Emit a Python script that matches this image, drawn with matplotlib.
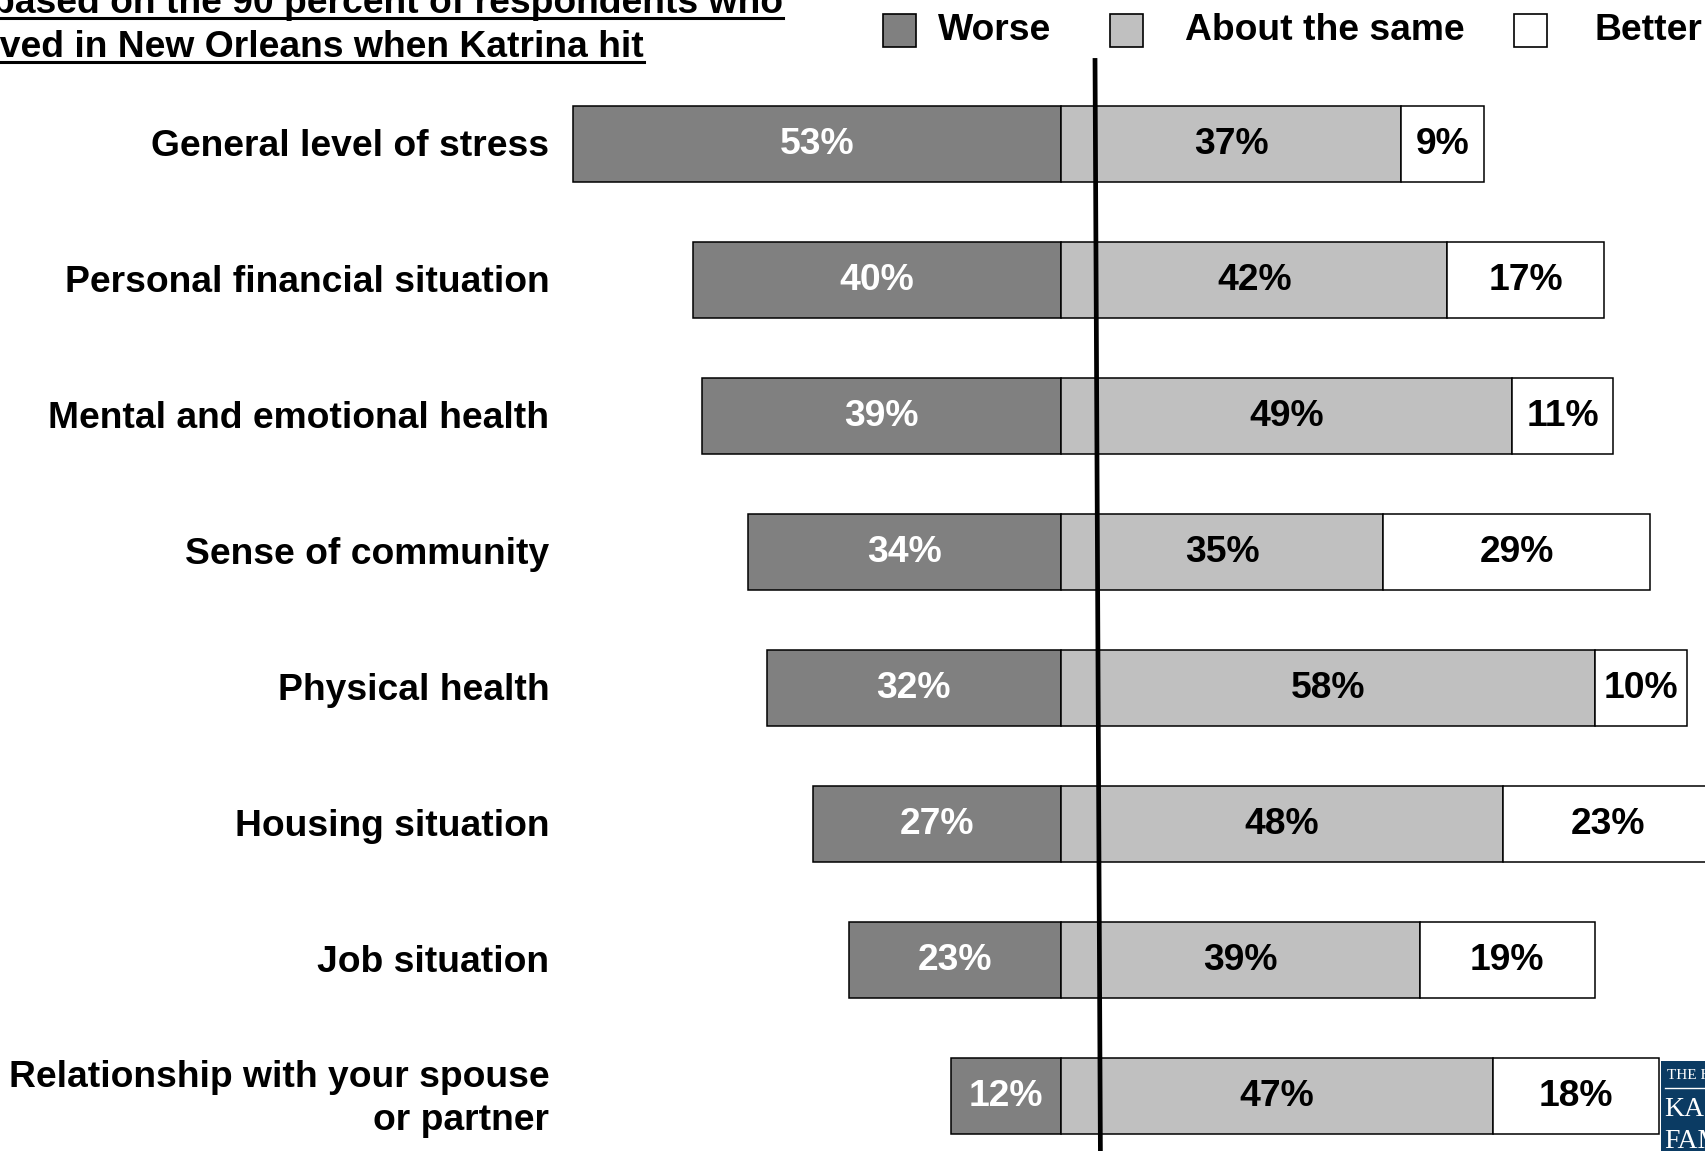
import numpy as np
import matplotlib.pyplot as plt
from matplotlib.patches import Rectangle
from matplotlib.lines import Line2D
from matplotlib.transforms import IdentityTransform

plt.rcParams['font.family'] = ['Liberation Sans', 'DejaVu Sans']

categories = ["General level of stress", "Personal financial situation",
              "Mental and emotional health", "Sense of community",
              "Physical health", "Housing situation", "Job situation",
              "Relationship with your spouse\nor partner"]
worse = np.array([53, 40, 39, 34, 32, 27, 23, 12])
same = np.array([37, 42, 49, 35, 58, 48, 39, 47])
better = np.array([9, 17, 11, 29, 10, 23, 19, 18])

legend_labels = ["Worse", "About the same", "Better"]
title_lines = ["based on the 90 percent of respondents who",
               "lived in New Orleans when Katrina hit"]

c_worse = '#808080'
c_same = '#c0c0c0'
c_better = '#ffffff'
FS = 26.8

W, H = 1706, 1151
fig = plt.figure(figsize=(W / 100, H / 100), dpi=100)
ax = fig.add_axes([0, 0, 1, 1])
ax.axis('off')
ax.set_xlim(-115.3, 70.1)
ax.set_ylim(7.404, -1.059)


def fx(px):
    return px / W


def fy(py):
    return 1 - py / H


y = np.arange(len(categories))
h = 0.559
kw = dict(height=h, edgecolor='black', linewidth=1.1)
ax.barh(y, worse, left=-worse, color=c_worse, **kw)
ax.barh(y, same, left=0, color=c_same, **kw)
ax.barh(y, better, left=same, color=c_better, **kw)

for i in range(len(categories)):
    ax.text(-worse[i] / 2, y[i], f"{worse[i]}%", ha='center', va='center',
            color='white', fontsize=FS, fontweight='bold')
    ax.text(same[i] / 2, y[i], f"{same[i]}%", ha='center', va='center',
            color='black', fontsize=FS, fontweight='bold')
    ax.text(same[i] + better[i] / 2, y[i], f"{better[i]}%", ha='center',
            va='center', color='black', fontsize=FS, fontweight='bold')
    ax.text(-55.6, y[i] + 0.02, categories[i], ha='right', va='center',
            multialignment='right', fontsize=FS, fontweight='bold',
            linespacing=1.3)

# divider line (slightly slanted like the original)
ax.plot([3.7, 4.3], [-0.632, 7.6], color='black', lw=3.4, zorder=5,
        solid_capstyle='butt')

# legend, placed by hand
sq = 33
for (sx, tx), lab, col in zip([(883, 938), (1110, 1185), (1514, 1595)],
                              legend_labels, [c_worse, c_same, c_better]):
    fig.add_artist(Rectangle((fx(sx), fy(14 + sq)), sq / W, sq / H,
                             facecolor=col, edgecolor='black', lw=1.2,
                             transform=fig.transFigure))
    fig.text(fx(tx), fy(31), lab, ha='left', va='center', fontsize=FS,
             fontweight='bold')

# title (cut off at the top/left like the original)
t1 = fig.text(fx(-8), fy(12.7), title_lines[0], ha='left', va='baseline',
              fontsize=FS, fontweight='bold')
t2 = fig.text(fx(-20.7), fy(57), title_lines[1], ha='left', va='baseline',
              fontsize=FS, fontweight='bold')
fig.canvas.draw()
r = fig.canvas.get_renderer()
for t, base in [(t1, 12.7), (t2, 57)]:
    bb = t.get_window_extent(r)
    yy = H - base - 5
    fig.add_artist(Line2D([bb.x0, bb.x1], [yy, yy], color='black', lw=2.2,
                          transform=IdentityTransform()))

# logo corner
fig.add_artist(Rectangle((fx(1661), 0), 60 / W, fy(1061), facecolor='#0b3b63',
                         edgecolor='none', transform=fig.transFigure))
fig.text(fx(1667), fy(1079), "THE HENRY J.", color='white', fontsize=11,
         family='Liberation Serif', va='baseline')
fig.add_artist(Line2D([1665, 1706], [H - 1088, H - 1088], color='white',
                      lw=1.0, transform=IdentityTransform()))
fig.text(fx(1664), fy(1116), "KAISER", color='white', fontsize=20,
         family='Liberation Serif', va='baseline')
fig.text(fx(1664), fy(1148), "FAMILY", color='white', fontsize=20,
         family='Liberation Serif', va='baseline')

fig.savefig('out.png', dpi=100)
